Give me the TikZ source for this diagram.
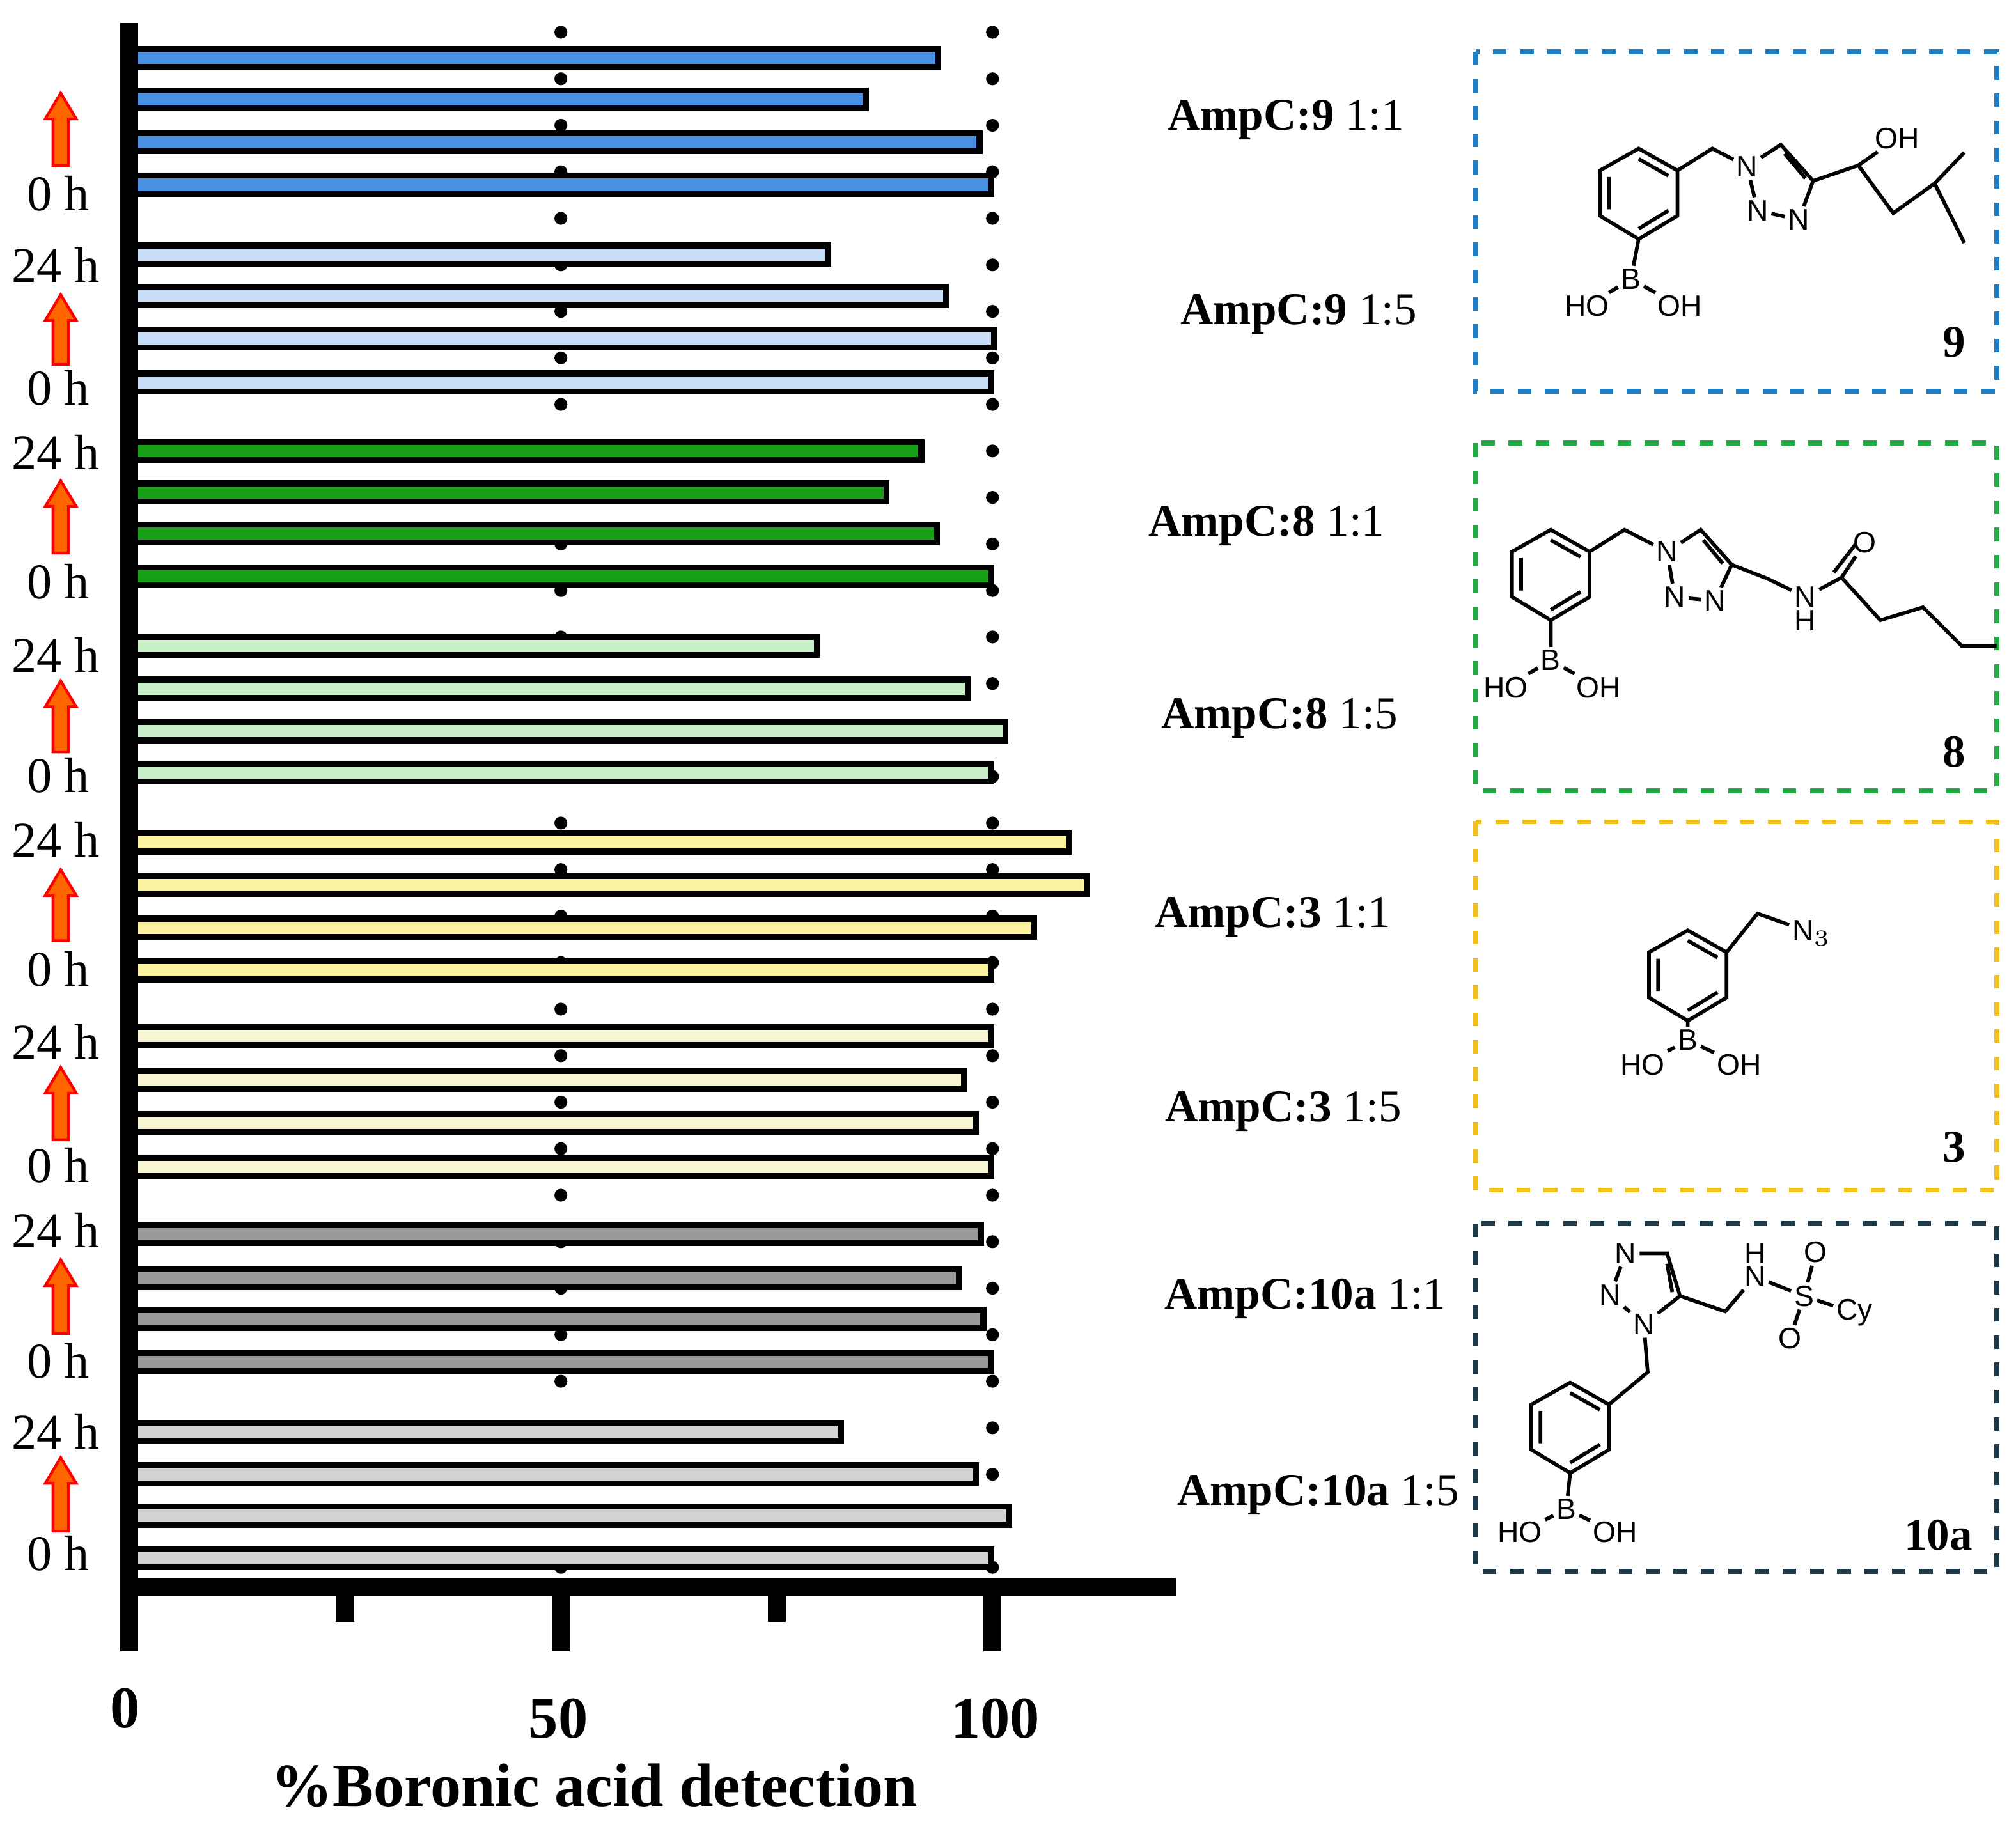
\documentclass[tikz,border=0pt]{standalone}
\usepackage{fontspec}
\setmainfont{Liberation Serif}
\newfontfamily\molfont{Liberation Sans}
\begin{document}
\begin{tikzpicture}[x=0.01cm,y=-0.01cm,
 bar/.style={draw=black,line width=1.3pt},
 lab/.style={font=\fontsize{11}{12}\selectfont},
 amp/.style={font=\fontsize{10}{12}\selectfont},
 mol/.style={font=\molfont\fontsize{6.5}{7}\selectfont,inner sep=0.3pt},
 bond/.style={line width=0.8pt},
 box/.style={dashed,line width=1.1pt},
 num/.style={font=\bfseries\fontsize{10}{12}\selectfont},
 up/.style={fill=orange!80!red,draw=red,line width=0.6pt}]
\useasboundingbox (0,0) rectangle (1560,1410);
\definecolor{c1}{HTML}{4A90E2}\definecolor{c2}{HTML}{C8DDF6}
\definecolor{c3}{HTML}{18A018}\definecolor{c4}{HTML}{C8F0C8}
\definecolor{c5}{HTML}{FAF2A0}\definecolor{c6}{HTML}{F8F5D2}
\definecolor{c7}{HTML}{9A9A9A}\definecolor{c8}{HTML}{D2D2D2}
% dotted reference lines
\foreach \x in {434,768}{\foreach \y in {25,61,...,1220}{\fill (\x,\y) circle (5);}}
% bars
\foreach \c/\ya/\ea/\yb/\eb/\yc/\ec/\yd/\ed in {
 c1/45/726/77/670/110/758/143/767,
 c2/197/641/229/732/262/769/296/767,
 c3/349/713/381/686/413/725/446/767,
 c4/500/632/533/749/566/778/598/767,
 c5/652/827/685/841/718/800/751/767,
 c6/802/767/836/746/869/755/903/767,
 c7/955/759/989/742/1021/761/1054/767,
 c8/1108/651/1141/755/1173/781/1206/767}{
 \foreach \y/\e in {\ya/\ea,\yb/\eb,\yc/\ec,\yd/\ed}{
  \draw[bar,fill=\c] (104,\y-7) rectangle (\e,\y+7);}}
% axes
\draw[line width=4pt] (100,18) -- (100,1278);
\draw[line width=4pt] (100,1228) -- (910,1228);
\foreach \x in {267,601}{\draw[line width=4pt] (\x,1228) -- (\x,1255);}
\foreach \x in {434,768}{\draw[line width=4pt] (\x,1228) -- (\x,1278);}
\node[font=\bfseries\fontsize{13}{15}\selectfont] (t0) at (97,1322) {0};
\node[font=\bfseries\fontsize{13}{15}\selectfont] (t50) at (432,1330) {50};
\node[font=\bfseries\fontsize{13}{15}\selectfont] (t100) at (770,1330) {100};
\node[font=\bfseries\fontsize{13.5}{16}\selectfont] (title) at (460,1382) {\%Boronic acid detection};
% time labels and arrows
\foreach \i/\t/\a/\b/\z in {1/-100/72/128/150,2/205/228/282/300,3/350/372/428/450,4/507/527/582/600,5/650/673/728/750,6/806/826/882/902,7/952/975/1032/1053,8/1108/1128/1185/1202}{
 \node[lab] (z\i) at (45,\z) {0 h};
 \ifnum\t>0 \node[lab] (d\i) at (43,\t) {24 h};\fi
 \draw[up] (41,\b) -- (41,\a+20) -- (35,\a+20) -- (47,\a) -- (59,\a+20) -- (53,\a+20) -- (53,\b) -- cycle;}
% group labels
\foreach \n/\x/\y/\a/\r in {g1/995/93/9/1:1,g2/1005/243/9/1:5,g3/980/407/8/1:1,g4/990/556/8/1:5,g5/985/710/3/1:1,g6/993/860/3/1:5,g7/1010/1005/10a/1:1,g8/1020/1157/10a/1:5}{
 \node[amp] (\n) at (\x,\y) {\textbf{AmpC:\a} \r};}
% boxes
\draw[box,draw={rgb,255:red,31;green,127;blue,196}] (1142,40) rectangle (1545,303);
\draw[box,draw={rgb,255:red,34;green,170;blue,68}] (1142,343) rectangle (1545,612);
\draw[box,draw={rgb,255:red,240;green,192;blue,32}] (1142,636) rectangle (1545,921);
\draw[box,draw={rgb,255:red,29;green,58;blue,74}] (1142,947) rectangle (1545,1216);
\node[num] (n9) at (1512,265) {9};
\node[num] (n8) at (1512,582) {8};
\node[num] (n3) at (1512,888) {3};
\node[num] (n10) at (1500,1188) {10a};
% molecule 9
\begin{scope}[bond]
\draw (1268,115) -- (1298,132) -- (1298,167) -- (1268,185) -- (1238,167) -- (1238,132) -- cycle;
\draw (1245,137) -- (1245,162) (1268,177) -- (1291,163) (1268,123) -- (1291,136);
\node[mol] (b9) at (1262,216) {B};
\node[mol] (ho9) at (1228,237) {HO};
\node[mol] (oh9) at (1300,237) {OH};
\draw (1268,185) -- (b9) (b9) -- (ho9) (b9) -- (oh9);
\node[mol] (n91) at (1352,129) {N};
\node[mol] (n92) at (1360,163) {N};
\node[mol] (n93) at (1392,170) {N};
\draw (1298,132) -- (1325,115) -- (n91);
\draw (n91) -- (1378,112) -- (1403,140) -- (n93) (n91) -- (n92) (n92) -- (n93);
\draw (1381,119) -- (1397,138);
\draw (1403,140) -- (1438,128);
\node[mol] (oh9b) at (1468,107) {OH};
\draw (1438,128) -- (oh9b) (1438,128) -- (1465,165) -- (1497,142) -- (1520,118) (1497,142) -- (1520,188);
\end{scope}
% molecule 8
\begin{scope}[bond]
\draw (1200,410) -- (1230,427) -- (1230,462) -- (1200,480) -- (1170,462) -- (1170,427) -- cycle;
\draw (1177,432) -- (1177,457) (1200,472) -- (1223,458) (1200,418) -- (1223,431);
\node[mol] (b8) at (1200,511) {B};
\node[mol] (ho8) at (1165,532) {HO};
\node[mol] (oh8) at (1237,532) {OH};
\draw (1200,480) -- (b8) (b8) -- (ho8) (b8) -- (oh8);
\node[mol] (n81) at (1290,427) {N};
\node[mol] (n82) at (1296,462) {N};
\node[mol] (n83) at (1327,465) {N};
\draw (1230,427) -- (1257,410) -- (n81);
\draw (n81) -- (1316,410) -- (1340,437) -- (n83) (n81) -- (n82) (n82) -- (n83);
\draw (1318,418) -- (1333,436);
\node[mol] (nh8) at (1397,462) {N};
\node[mol] (h8) at (1397,480) {H};
\node[mol] (o8) at (1443,420) {O};
\draw (1340,437) -- (1368,448) -- (nh8);
\draw (nh8) -- (1425,447) -- (1455,480) -- (1488,470) -- (1518,500) -- (1545,500);
\draw (1425,447) -- (o8) (1419,443) -- (1436,421);
\end{scope}
% molecule 3
\begin{scope}[bond]
\draw (1306,720) -- (1336,737) -- (1336,772) -- (1306,790) -- (1276,772) -- (1276,737) -- cycle;
\draw (1283,742) -- (1283,767) (1306,782) -- (1329,768) (1306,728) -- (1329,741);
\node[mol] (b3) at (1306,805) {B};
\node[mol] (ho3) at (1271,824) {HO};
\node[mol] (oh3) at (1346,824) {OH};
\draw (1306,790) -- (b3) (b3) -- (ho3) (b3) -- (oh3);
\node[mol] (n3a) at (1402,722) {N$_3$};
\draw (1336,737) -- (1360,707) -- (n3a);
\end{scope}
% molecule 10a
\begin{scope}[bond]
\draw (1215,1070) -- (1245,1087) -- (1245,1122) -- (1215,1140) -- (1185,1122) -- (1185,1087) -- cycle;
\draw (1192,1092) -- (1192,1117) (1215,1132) -- (1238,1118) (1215,1078) -- (1238,1091);
\node[mol] (b10) at (1212,1168) {B};
\node[mol] (ho10) at (1176,1186) {HO};
\node[mol] (oh10) at (1250,1186) {OH};
\draw (1215,1140) -- (b10) (b10) -- (ho10) (b10) -- (oh10);
\node[mol] (n101) at (1272,1025) {N};
\node[mol] (n102) at (1246,1002) {N};
\node[mol] (n103) at (1258,970) {N};
\draw (1245,1087) -- (1275,1062) -- (n101);
\draw (n101) -- (n102) (n102) -- (n103) (n103) -- (1290,970) -- (1300,1003) -- (n101);
\draw (1290,978) -- (1294,1000);
\node[mol] (nh10) at (1358,988) {N};
\node[mol] (h10) at (1358,970) {H};
\node[mol] (s10) at (1396,1003) {S};
\node[mol] (o101) at (1405,969) {O};
\node[mol] (o102) at (1385,1036) {O};
\node[mol] (cy) at (1435,1016) {Cy};
\draw (1300,1003) -- (1335,1015) -- (nh10);
\draw (nh10) -- (s10) (s10) -- (cy) (s10) -- (o101) (s10) -- (o102);
\end{scope}
\end{tikzpicture}
\end{document}
